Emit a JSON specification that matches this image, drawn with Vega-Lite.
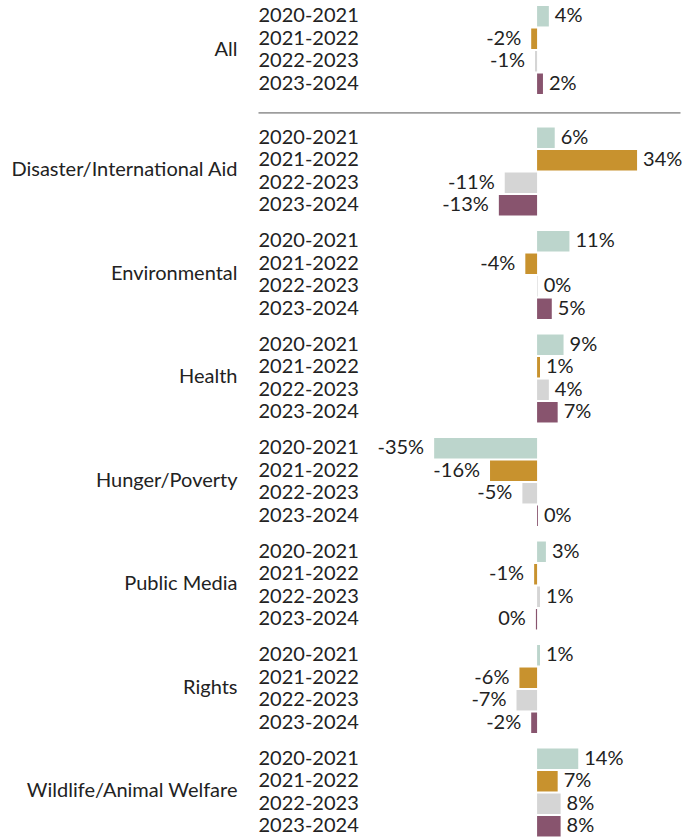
{
  "$schema": "https://vega.github.io/schema/vega-lite/v6.json",
  "padding": {"left": 10, "top": 5, "right": 3, "bottom": 5},
  "background": "white",
  "data": {"values": [
    {"category": "All", "period": "2020-2021", "value": 4, "label": "4%"},
    {"category": "All", "period": "2021-2022", "value": -2, "label": "-2%"},
    {"category": "All", "period": "2022-2023", "value": -0.7, "label": "-1%"},
    {"category": "All", "period": "2023-2024", "value": 2, "label": "2%"},
    {"category": "Disaster/International Aid", "period": "2020-2021", "value": 6, "label": "6%"},
    {"category": "Disaster/International Aid", "period": "2021-2022", "value": 34, "label": "34%"},
    {"category": "Disaster/International Aid", "period": "2022-2023", "value": -11, "label": "-11%"},
    {"category": "Disaster/International Aid", "period": "2023-2024", "value": -13, "label": "-13%"},
    {"category": "Environmental", "period": "2020-2021", "value": 11, "label": "11%"},
    {"category": "Environmental", "period": "2021-2022", "value": -4, "label": "-4%"},
    {"category": "Environmental", "period": "2022-2023", "value": 0.2, "label": "0%"},
    {"category": "Environmental", "period": "2023-2024", "value": 5, "label": "5%"},
    {"category": "Health", "period": "2020-2021", "value": 9, "label": "9%"},
    {"category": "Health", "period": "2021-2022", "value": 1, "label": "1%"},
    {"category": "Health", "period": "2022-2023", "value": 4, "label": "4%"},
    {"category": "Health", "period": "2023-2024", "value": 7, "label": "7%"},
    {"category": "Hunger/Poverty", "period": "2020-2021", "value": -35, "label": "-35%"},
    {"category": "Hunger/Poverty", "period": "2021-2022", "value": -16, "label": "-16%"},
    {"category": "Hunger/Poverty", "period": "2022-2023", "value": -5, "label": "-5%"},
    {"category": "Hunger/Poverty", "period": "2023-2024", "value": 0.3, "label": "0%"},
    {"category": "Public Media", "period": "2020-2021", "value": 3, "label": "3%"},
    {"category": "Public Media", "period": "2021-2022", "value": -1, "label": "-1%"},
    {"category": "Public Media", "period": "2022-2023", "value": 1, "label": "1%"},
    {"category": "Public Media", "period": "2023-2024", "value": -0.4, "label": "0%"},
    {"category": "Rights", "period": "2020-2021", "value": 1, "label": "1%"},
    {"category": "Rights", "period": "2021-2022", "value": -6, "label": "-6%"},
    {"category": "Rights", "period": "2022-2023", "value": -7, "label": "-7%"},
    {"category": "Rights", "period": "2023-2024", "value": -2, "label": "-2%"},
    {"category": "Wildlife/Animal Welfare", "period": "2020-2021", "value": 14, "label": "14%"},
    {"category": "Wildlife/Animal Welfare", "period": "2021-2022", "value": 7, "label": "7%"},
    {"category": "Wildlife/Animal Welfare", "period": "2022-2023", "value": 8, "label": "8%"},
    {"category": "Wildlife/Animal Welfare", "period": "2023-2024", "value": 8, "label": "8%"}
  ]},
  "vconcat": [
    {
      "width": 422, "height": {"step": 22.5},
      "transform": [{"filter": "datum.category === 'All'"}],
      "encoding": {
        "y": {"field": "period", "type": "nominal", "sort": ["2020-2021", "2021-2022", "2022-2023", "2023-2024"], "title": "All", "scale": {"paddingInner": 0.09, "paddingOuter": 0.41, "align": 0}, "axis": {"titleY": 43}},
        "x": {"field": "value", "type": "quantitative", "scale": {"domain": [-94.9, 48.6], "nice": false}, "axis": {"orient": "bottom", "domain": true, "domainColor": "#555555", "domainWidth": 1, "labels": false, "ticks": false, "grid": false, "title": null}}
      },
      "layer": [
        {"mark": {"type": "bar"}, "encoding": {"color": {"field": "period", "type": "nominal", "scale": {"domain": ["2020-2021", "2021-2022", "2022-2023", "2023-2024"], "range": ["#BCD5CC", "#C8922E", "#D5D5D5", "#88546E"]}, "legend": null}}},
        {"transform": [{"filter": "datum.value >= 0"}], "mark": {"type": "text", "align": "left", "dx": 6}, "encoding": {"text": {"field": "label"}}},
        {"transform": [{"filter": "datum.value < 0"}], "mark": {"type": "text", "align": "right", "dx": -10}, "encoding": {"text": {"field": "label"}}}
      ]
    },
    {
      "width": 422, "height": {"step": 22.5},
      "transform": [{"filter": "datum.category === 'Disaster/International Aid'"}],
      "encoding": {
        "y": {"field": "period", "type": "nominal", "sort": ["2020-2021", "2021-2022", "2022-2023", "2023-2024"], "title": "Disaster/International Aid", "scale": {"paddingInner": 0.09, "paddingOuter": 0.045}},
        "x": {"field": "value", "type": "quantitative", "scale": {"domain": [-94.9, 48.6], "nice": false}, "axis": null}
      },
      "layer": [
        {"mark": {"type": "bar"}, "encoding": {"color": {"field": "period", "type": "nominal", "scale": {"domain": ["2020-2021", "2021-2022", "2022-2023", "2023-2024"], "range": ["#BCD5CC", "#C8922E", "#D5D5D5", "#88546E"]}, "legend": null}}},
        {"transform": [{"filter": "datum.value >= 0"}], "mark": {"type": "text", "align": "left", "dx": 6}, "encoding": {"text": {"field": "label"}}},
        {"transform": [{"filter": "datum.value < 0"}], "mark": {"type": "text", "align": "right", "dx": -10}, "encoding": {"text": {"field": "label"}}}
      ]
    },
    {
      "width": 422, "height": {"step": 22.5},
      "transform": [{"filter": "datum.category === 'Environmental'"}],
      "encoding": {
        "y": {"field": "period", "type": "nominal", "sort": ["2020-2021", "2021-2022", "2022-2023", "2023-2024"], "title": "Environmental", "scale": {"paddingInner": 0.09, "paddingOuter": 0.045}},
        "x": {"field": "value", "type": "quantitative", "scale": {"domain": [-94.9, 48.6], "nice": false}, "axis": null}
      },
      "layer": [
        {"mark": {"type": "bar"}, "encoding": {"color": {"field": "period", "type": "nominal", "scale": {"domain": ["2020-2021", "2021-2022", "2022-2023", "2023-2024"], "range": ["#BCD5CC", "#C8922E", "#D5D5D5", "#88546E"]}, "legend": null}}},
        {"transform": [{"filter": "datum.value >= 0"}], "mark": {"type": "text", "align": "left", "dx": 6}, "encoding": {"text": {"field": "label"}}},
        {"transform": [{"filter": "datum.value < 0"}], "mark": {"type": "text", "align": "right", "dx": -10}, "encoding": {"text": {"field": "label"}}}
      ]
    },
    {
      "width": 422, "height": {"step": 22.5},
      "transform": [{"filter": "datum.category === 'Health'"}],
      "encoding": {
        "y": {"field": "period", "type": "nominal", "sort": ["2020-2021", "2021-2022", "2022-2023", "2023-2024"], "title": "Health", "scale": {"paddingInner": 0.09, "paddingOuter": 0.045}},
        "x": {"field": "value", "type": "quantitative", "scale": {"domain": [-94.9, 48.6], "nice": false}, "axis": null}
      },
      "layer": [
        {"mark": {"type": "bar"}, "encoding": {"color": {"field": "period", "type": "nominal", "scale": {"domain": ["2020-2021", "2021-2022", "2022-2023", "2023-2024"], "range": ["#BCD5CC", "#C8922E", "#D5D5D5", "#88546E"]}, "legend": null}}},
        {"transform": [{"filter": "datum.value >= 0"}], "mark": {"type": "text", "align": "left", "dx": 6}, "encoding": {"text": {"field": "label"}}},
        {"transform": [{"filter": "datum.value < 0"}], "mark": {"type": "text", "align": "right", "dx": -10}, "encoding": {"text": {"field": "label"}}}
      ]
    },
    {
      "width": 422, "height": {"step": 22.5},
      "transform": [{"filter": "datum.category === 'Hunger/Poverty'"}],
      "encoding": {
        "y": {"field": "period", "type": "nominal", "sort": ["2020-2021", "2021-2022", "2022-2023", "2023-2024"], "title": "Hunger/Poverty", "scale": {"paddingInner": 0.09, "paddingOuter": 0.045}},
        "x": {"field": "value", "type": "quantitative", "scale": {"domain": [-94.9, 48.6], "nice": false}, "axis": null}
      },
      "layer": [
        {"mark": {"type": "bar"}, "encoding": {"color": {"field": "period", "type": "nominal", "scale": {"domain": ["2020-2021", "2021-2022", "2022-2023", "2023-2024"], "range": ["#BCD5CC", "#C8922E", "#D5D5D5", "#88546E"]}, "legend": null}}},
        {"transform": [{"filter": "datum.value >= 0"}], "mark": {"type": "text", "align": "left", "dx": 6}, "encoding": {"text": {"field": "label"}}},
        {"transform": [{"filter": "datum.value < 0"}], "mark": {"type": "text", "align": "right", "dx": -10}, "encoding": {"text": {"field": "label"}}}
      ]
    },
    {
      "width": 422, "height": {"step": 22.5},
      "transform": [{"filter": "datum.category === 'Public Media'"}],
      "encoding": {
        "y": {"field": "period", "type": "nominal", "sort": ["2020-2021", "2021-2022", "2022-2023", "2023-2024"], "title": "Public Media", "scale": {"paddingInner": 0.09, "paddingOuter": 0.045}},
        "x": {"field": "value", "type": "quantitative", "scale": {"domain": [-94.9, 48.6], "nice": false}, "axis": null}
      },
      "layer": [
        {"mark": {"type": "bar"}, "encoding": {"color": {"field": "period", "type": "nominal", "scale": {"domain": ["2020-2021", "2021-2022", "2022-2023", "2023-2024"], "range": ["#BCD5CC", "#C8922E", "#D5D5D5", "#88546E"]}, "legend": null}}},
        {"transform": [{"filter": "datum.value >= 0"}], "mark": {"type": "text", "align": "left", "dx": 6}, "encoding": {"text": {"field": "label"}}},
        {"transform": [{"filter": "datum.value < 0"}], "mark": {"type": "text", "align": "right", "dx": -10}, "encoding": {"text": {"field": "label"}}}
      ]
    },
    {
      "width": 422, "height": {"step": 22.5},
      "transform": [{"filter": "datum.category === 'Rights'"}],
      "encoding": {
        "y": {"field": "period", "type": "nominal", "sort": ["2020-2021", "2021-2022", "2022-2023", "2023-2024"], "title": "Rights", "scale": {"paddingInner": 0.09, "paddingOuter": 0.045}},
        "x": {"field": "value", "type": "quantitative", "scale": {"domain": [-94.9, 48.6], "nice": false}, "axis": null}
      },
      "layer": [
        {"mark": {"type": "bar"}, "encoding": {"color": {"field": "period", "type": "nominal", "scale": {"domain": ["2020-2021", "2021-2022", "2022-2023", "2023-2024"], "range": ["#BCD5CC", "#C8922E", "#D5D5D5", "#88546E"]}, "legend": null}}},
        {"transform": [{"filter": "datum.value >= 0"}], "mark": {"type": "text", "align": "left", "dx": 6}, "encoding": {"text": {"field": "label"}}},
        {"transform": [{"filter": "datum.value < 0"}], "mark": {"type": "text", "align": "right", "dx": -10}, "encoding": {"text": {"field": "label"}}}
      ]
    },
    {
      "width": 422, "height": {"step": 22.5},
      "transform": [{"filter": "datum.category === 'Wildlife/Animal Welfare'"}],
      "encoding": {
        "y": {"field": "period", "type": "nominal", "sort": ["2020-2021", "2021-2022", "2022-2023", "2023-2024"], "title": "Wildlife/Animal Welfare", "scale": {"paddingInner": 0.09, "paddingOuter": 0.045}},
        "x": {"field": "value", "type": "quantitative", "scale": {"domain": [-94.9, 48.6], "nice": false}, "axis": null}
      },
      "layer": [
        {"mark": {"type": "bar"}, "encoding": {"color": {"field": "period", "type": "nominal", "scale": {"domain": ["2020-2021", "2021-2022", "2022-2023", "2023-2024"], "range": ["#BCD5CC", "#C8922E", "#D5D5D5", "#88546E"]}, "legend": null}}},
        {"transform": [{"filter": "datum.value >= 0"}], "mark": {"type": "text", "align": "left", "dx": 6}, "encoding": {"text": {"field": "label"}}},
        {"transform": [{"filter": "datum.value < 0"}], "mark": {"type": "text", "align": "right", "dx": -10}, "encoding": {"text": {"field": "label"}}}
      ]
    }
  ],
  "spacing": 13.5,
  "bounds": "flush",
  "config": {
    "view": {"stroke": null},
    "text": {"font": "Lato", "fontSize": 20, "color": "#222222", "baseline": "middle"},
    "axisY": {
      "domain": false, "ticks": false, "grid": false,
      "labelAlign": "left", "labelPadding": 0, "labelFont": "Lato", "labelFontSize": 20, "labelColor": "#222222", "labelLimit": 0,
      "titleAngle": 0, "titleAlign": "right", "titleBaseline": "middle", "titleX": -21, "titleY": 43,
      "titleFont": "Lato", "titleFontSize": 20, "titleFontWeight": "normal", "titleColor": "#222222", "titleLimit": 400
    }
  }
}
